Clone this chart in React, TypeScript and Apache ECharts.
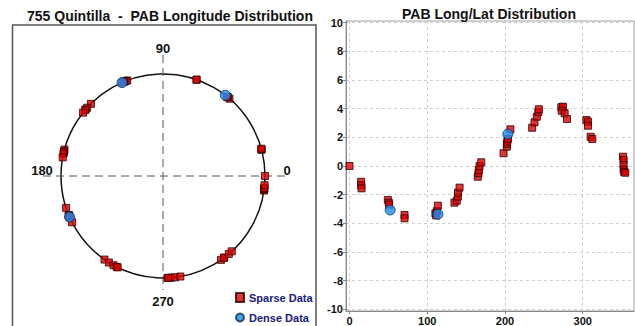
import React, { useEffect, useRef } from "react";
import * as echarts from "echarts";

const sparseLon = [
  0, 15, 15, 15.5, 49.3, 50.6, 51, 70.8, 70.8, 110.5, 111.5, 112.5, 113.7,
  135, 138, 139.4, 139.6, 141.6, 165, 166, 166.4, 167.3, 169.5,
  198.2, 202.5, 202.5, 203, 204, 207, 235, 238, 241, 243, 243.6,
  272.5, 274.6, 273, 276.8, 279.8, 304.7, 306.8, 306.8, 310.2, 312.4,
  351.8, 352.7, 352.5, 352.7, 353.2, 354.8,
];
const sparseLat = [
  0, -1.1, -1.35, -1.56, -2.37, -2.56, -2.7, -3.42, -3.65, -3.3, -3.45, -3.15, -2.77,
  -2.56, -2.42, -2.14, -1.86, -1.51, -0.75, -0.51, -0.28, 0, 0.26,
  0.89, 1.35, 1.54, 1.7, 1.9, 2.56, 2.67, 3.05, 3.44, 3.75, 3.96,
  4.1, 4.14, 3.86, 3.68, 3.28, 3.21, 3.09, 2.81, 2.04, 1.88,
  0.65, 0.42, 0.07, -0.23, -0.4, -0.47,
];
const denseLon = [52.3, 113.7, 203.7];
const denseLat = [-3.07, -3.37, 2.23];

const xTicks = [0, 100, 200, 300];
const yTicks = [-10, -8, -6, -4, -2, 0, 2, 4, 6, 8, 10];
const angleLabels = [
  { text: "0", x: 287, y: 170 },
  { text: "90", x: 163, y: 48 },
  { text: "180", x: 42, y: 170 },
  { text: "270", x: 163, y: 301 },
];

const FONT = "'Liberation Sans', Arial, sans-serif";
const RED = "#e00000";
const BLUE = "#1e8cf5";

export default function App() {
  const ref = useRef<HTMLDivElement>(null);
  useEffect(() => {
    if (!ref.current) return;
    const chart = echarts.init(ref.current, null, { renderer: "svg" });
    const sparseStyle = { color: RED, borderColor: "#2a0000", borderWidth: 1 };
    const denseStyle = { color: BLUE, borderColor: "#10304a", borderWidth: 1 };
    chart.setOption({
      animation: false,
      backgroundColor: "#fff",
      textStyle: { fontFamily: FONT },
      title: [
        {
          text: "755 Quintilla  -  PAB Longitude Distribution",
          left: 165,
          top: 4,
          textAlign: "center",
          textStyle: { fontSize: 14, fontWeight: "bold", color: "#111", fontFamily: FONT },
        },
        {
          text: "PAB Long/Lat Distribution",
          left: 484,
          top: 2,
          textAlign: "center",
          textStyle: { fontSize: 14, fontWeight: "bold", color: "#111", fontFamily: FONT },
        },
      ],
      legend: {
        orient: "vertical",
        left: 235,
        top: 292,
        padding: 0,
        itemWidth: 8,
        itemHeight: 9,
        itemGap: 9,
        textStyle: { fontSize: 11, fontWeight: "bold", color: "#1a1a80", fontFamily: FONT },
        data: [
          { name: "Sparse Data", icon: "rect" },
          { name: "Dense Data", icon: "circle" },
        ],
      },
      polar: { center: [163, 176], radius: 102 },
      angleAxis: {
        type: "value",
        min: 0,
        max: 360,
        startAngle: 0,
        clockwise: false,
        axisLine: { show: true, lineStyle: { color: "#111", width: 1.5 } },
        axisTick: { show: false },
        axisLabel: { show: false },
        splitLine: { show: false },
      },
      radiusAxis: {
        type: "value",
        min: 0,
        max: 1,
        axisLine: { show: false },
        axisTick: { show: false },
        axisLabel: { show: false },
        splitLine: { show: false },
      },
      grid: {
        left: 346,
        top: 21,
        width: 288,
        height: 290,
        show: true,
        borderColor: "#a0a0a0",
        borderWidth: 1,
      },
      xAxis: {
        type: "value",
        min: -4.5,
        max: 366,
        axisLine: { show: true, onZero: false, lineStyle: { color: "#888" } },
        axisTick: { show: true, customValues: xTicks, length: 3, lineStyle: { color: "#888" } },
        axisLabel: {
          customValues: xTicks,
          margin: 4,
          fontSize: 11,
          fontWeight: "bold",
          color: "#111",
          fontFamily: FONT,
        },
        splitLine: { show: true, lineStyle: { color: "#cfcfcf", type: [3, 3] } },
      },
      yAxis: {
        type: "value",
        min: -10.12,
        max: 10.12,
        axisLine: { show: true, onZero: false, lineStyle: { color: "#888" } },
        axisTick: { show: true, customValues: yTicks, length: 3, lineStyle: { color: "#888" } },
        axisLabel: {
          customValues: yTicks,
          margin: 3,
          fontSize: 11,
          fontWeight: "bold",
          color: "#111",
          fontFamily: FONT,
        },
        splitLine: { show: true, lineStyle: { color: "#cfcfcf", type: [3, 3] } },
      },
      graphic: [
        {
          type: "rect",
          shape: { x: 12.5, y: 25, width: 303.5, height: 320 },
          style: { fill: "none", stroke: "#555", lineWidth: 1.5 },
          z: 0,
        },
        {
          type: "line",
          shape: { x1: 43, y1: 176, x2: 285, y2: 176 },
          style: { stroke: "#555", lineWidth: 1, lineDash: [8, 5] },
          z: 1,
        },
        {
          type: "line",
          shape: { x1: 163, y1: 55, x2: 163, y2: 290 },
          style: { stroke: "#555", lineWidth: 1, lineDash: [8, 5] },
          z: 1,
        },
        ...angleLabels.map((l) => ({
          type: "text",
          x: l.x,
          y: l.y,
          style: {
            text: l.text,
            fontSize: 13,
            fontWeight: "bold",
            fontFamily: FONT,
            fill: "#111",
            align: "center",
            verticalAlign: "middle",
          },
          z: 1,
        })),
      ],
      series: [
        {
          name: "Sparse Data",
          type: "scatter",
          coordinateSystem: "polar",
          symbol: "rect",
          symbolSize: 7,
          itemStyle: sparseStyle,
          data: sparseLon.map((lon) => [1, lon]),
          z: 3,
        },
        {
          name: "Dense Data",
          type: "scatter",
          coordinateSystem: "polar",
          symbol: "circle",
          symbolSize: 10,
          itemStyle: denseStyle,
          data: denseLon.map((lon) => [1, lon]),
          z: 4,
        },
        {
          name: "Sparse Data",
          type: "scatter",
          xAxisIndex: 0,
          yAxisIndex: 0,
          symbol: "rect",
          symbolSize: 7,
          itemStyle: sparseStyle,
          data: sparseLon.map((lon, i) => [lon, sparseLat[i]]),
          z: 3,
        },
        {
          name: "Dense Data",
          type: "scatter",
          xAxisIndex: 0,
          yAxisIndex: 0,
          symbol: "circle",
          symbolSize: 10,
          itemStyle: denseStyle,
          data: denseLon.map((lon, i) => [lon, denseLat[i]]),
          z: 4,
        },
      ],
    });
    return () => chart.dispose();
  }, []);
  return (
    <div
      ref={ref}
      style={{ position: "fixed", left: 0, top: 0, width: 635, height: 326, background: "#fff" }}
    />
  );
}
